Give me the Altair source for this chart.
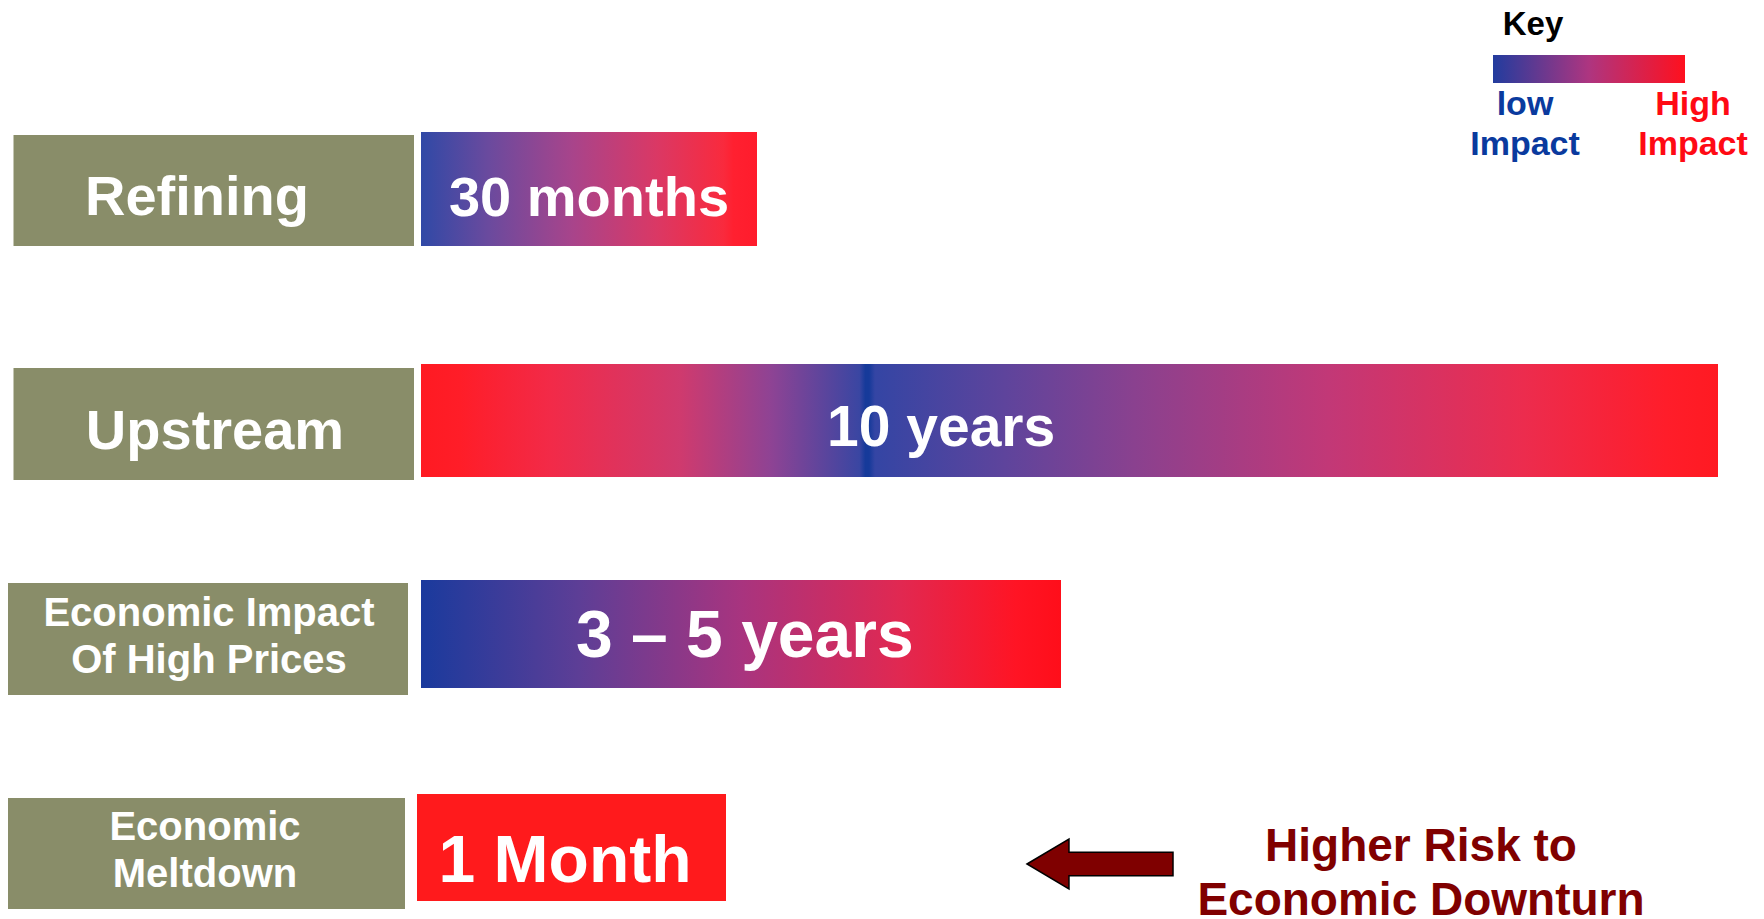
import altair as alt
import pandas as pd

# ---------------- data ----------------
categories = ["Refining", "Upstream", "Economic Impact\nOf High Prices", "Economic\nMeltdown"]
durations = ["30 months", "10 years", "3 \u2013 5 years", "1 Month"]
bar_length = [336, 1297, 640, 309]          # relative bar lengths

key_title = "Key"
key_low = "low\nImpact"
key_high = "High\nImpact"
note_text = "Higher Risk to\nEconomic Downturn"

# ---------------- layout ----------------
W, H = 1748, 911
label_x0 = [13.5, 13.5, 8, 6]
label_x1 = [414, 414, 408, 405]
label_y0 = [135, 368, 583, 798]
label_y1 = [246, 480, 695, 909]
label_text_x = [197, 215, 209, 205]
label_text_y = [215, 449, 626, 840]
label_font = [56, 56, 40, 40]

bar_x0 = [421, 421, 421, 417]
bar_y0 = [132, 364, 580, 794]
bar_y1 = [246, 477, 688, 901]
bar_text_frac = [0.5, 0.401, 0.506, 0.479]
bar_text_y = [216, 446, 657, 882]
bar_font = [56, 57, 66, 66]

OLIVE = "#898D69"
FONT = "Liberation Sans"

grad_refining = [(0, "#3049A6"), (0.2, "#6A4A9E"), (0.45, "#A8448B"), (0.7, "#DA3865"),
                 (0.9, "#F92A3D"), (0.93, "#FF2030"), (1, "#FF1C2C")]
grad_upstream = [(0, "#FF1A22"), (0.03, "#FF1D28"), (0.1, "#F22A48"), (0.2, "#CF3A6E"),
                 (0.27, "#8E4394"), (0.338, "#3A46A2"), (0.3425, "#163A9A"), (0.3455, "#163A9A"),
                 (0.35, "#3445A4"), (0.45, "#5E449C"), (0.55, "#8A418F"), (0.7, "#C23877"),
                 (0.85, "#EC2C4E"), (0.96, "#FF1D2A"), (1, "#FF1A22")]
grad_econ = [(0, "#1A3A9D"), (0.25, "#5E3E96"), (0.5, "#A8347F"), (0.75, "#E12851"),
             (0.93, "#FF1424"), (1, "#FF0E1A")]
grad_meltdown = [(0, "#FF1A1C"), (1, "#FF1A1C")]
grad_key = [(0, "#223C9E"), (0.5, "#AE3580"), (1, "#FF101E")]
gradients = [grad_refining, grad_upstream, grad_econ, grad_meltdown]


def lg(stops):
    return alt.LinearGradient(
        gradient="linear",
        stops=[alt.GradientStop(color=c, offset=o) for o, c in stops],
        x1=0, x2=1, y1=0, y2=0,
    )


df = pd.DataFrame({
    "category": categories,
    "duration": durations,
    "length": bar_length,
    "lx0": label_x0, "lx1": label_x1, "ly0": label_y0, "ly1": label_y1,
    "ltx": label_text_x, "lty": label_text_y, "lfs": label_font,
    "bx0": bar_x0, "by0": bar_y0, "by1": bar_y1,
    "frac": bar_text_frac, "bty": bar_text_y, "bfs": bar_font,
})
df["bx1"] = df["bx0"] + df["length"]
df["btx"] = df["bx0"] + df["frac"] * df["length"]

xs = alt.Scale(domain=[8, 8 + W], nice=False, zero=False)
ys = alt.Scale(domain=[8, 8 + H], nice=False, zero=False, reverse=True)

base = alt.Chart(df)

label_boxes = base.mark_rect(color=OLIVE).encode(
    x=alt.X("lx0:Q", scale=xs, axis=None), x2="lx1:Q",
    y=alt.Y("ly0:Q", scale=ys, axis=None), y2="ly1:Q",
)

label_text = base.mark_text(font=FONT, fontWeight="bold", color="white", align="center",
                            baseline="alphabetic", lineBreak="\n", lineHeight=47).encode(
    x=alt.X("ltx:Q", scale=xs, axis=None),
    y=alt.Y("lty:Q", scale=ys, axis=None),
    text="category:N",
    size=alt.Size("lfs:Q", scale=None),
)

bars = []
for cat, g in zip(categories, gradients):
    bars.append(
        base.transform_filter(alt.datum.category == cat).mark_rect(color=lg(g)).encode(
            x=alt.X("bx0:Q", scale=xs, axis=None), x2="bx1:Q",
            y=alt.Y("by0:Q", scale=ys, axis=None), y2="by1:Q",
        )
    )

bar_text = base.mark_text(font=FONT, fontWeight="bold", color="white", align="center",
                          baseline="alphabetic").encode(
    x=alt.X("btx:Q", scale=xs, axis=None),
    y=alt.Y("bty:Q", scale=ys, axis=None),
    text="duration:N",
    size=alt.Size("bfs:Q", scale=None),
)

# ---------------- key ----------------
key_bar_df = pd.DataFrame({"x0": [1493], "x1": [1685], "y0": [55], "y1": [83]})
key_bar = alt.Chart(key_bar_df).mark_rect(color=lg(grad_key)).encode(
    x=alt.X("x0:Q", scale=xs, axis=None), x2="x1:Q",
    y=alt.Y("y0:Q", scale=ys, axis=None), y2="y1:Q",
)

key_text_df = pd.DataFrame({
    "t": [key_title, key_low, key_high],
    "x": [1533, 1525, 1693],
    "y": [35, 115, 115],
    "c": ["#000000", "#0A3A9E", "#FF0A14"],
    "fs": [33, 34, 34],
})
key_text = alt.Chart(key_text_df).mark_text(font=FONT, fontWeight="bold", align="center",
                                            baseline="alphabetic", lineBreak="\n",
                                            lineHeight=40).encode(
    x=alt.X("x:Q", scale=xs, axis=None),
    y=alt.Y("y:Q", scale=ys, axis=None),
    text="t:N",
    color=alt.Color("c:N", scale=None),
    size=alt.Size("fs:Q", scale=None),
)

# ---------------- arrow + note ----------------
ARROW = ("M -1 0 L -0.425 -0.342 L -0.425 -0.162 L 1 -0.162 L 1 0.162 "
         "L -0.425 0.162 L -0.425 0.342 Z")
arrow_df = pd.DataFrame({"x": [1100], "y": [864]})
arrow = alt.Chart(arrow_df).mark_point(shape=ARROW, filled=True, fill="#7F0000", stroke="#000000",
                                       strokeWidth=1.5, opacity=1, size=146 * 146).encode(
    x=alt.X("x:Q", scale=xs, axis=None),
    y=alt.Y("y:Q", scale=ys, axis=None),
)

note_df = pd.DataFrame({"t": [note_text], "x": [1421], "y": [861]})
note = alt.Chart(note_df).mark_text(font=FONT, fontWeight="bold", align="center",
                                    baseline="alphabetic", lineBreak="\n", lineHeight=54,
                                    color="#800000", fontSize=46).encode(
    x=alt.X("x:Q", scale=xs, axis=None),
    y=alt.Y("y:Q", scale=ys, axis=None),
    text="t:N",
)

chart = alt.layer(label_boxes, *bars, label_text, bar_text, key_bar, key_text, arrow, note).properties(
    width=W, height=H, autosize=alt.AutoSizeParams(type="none"), padding=0, background="white"
).configure_view(stroke=None)

chart.save("out.html", embed_options={"renderer": "svg", "actions": False})
